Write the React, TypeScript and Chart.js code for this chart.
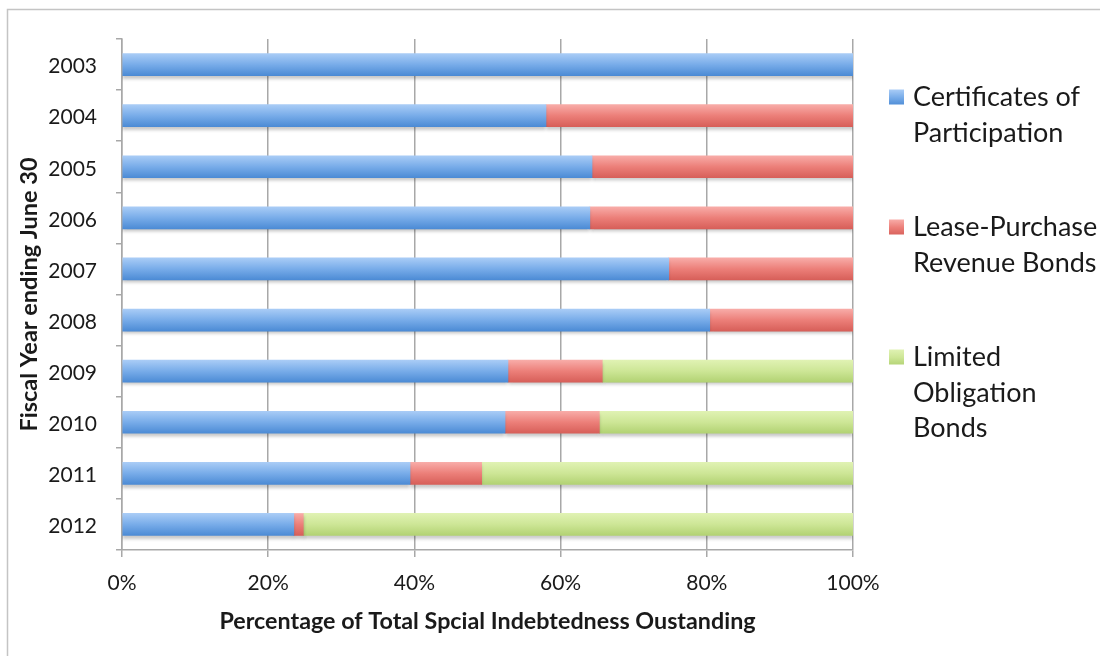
import React, { useEffect, useRef } from "react";
import { Chart, registerables } from "chart.js";

Chart.register(...registerables);

const years = ["2003", "2004", "2005", "2006", "2007", "2008", "2009", "2010", "2011", "2012"];
const certificates = [100, 58.0, 64.3, 64.0, 74.8, 80.4, 52.8, 52.4, 39.4, 23.5];
const leasePurchase = [0, 42.0, 35.7, 36.0, 25.2, 19.6, 12.9, 12.9, 9.8, 1.3];
const limitedObligation = [0, 0, 0, 0, 0, 0, 34.3, 34.7, 50.8, 75.2];
const seriesLines = [
  ["Certificates of", "Participation"],
  ["Lease-Purchase", "Revenue Bonds"],
  ["Limited", "Obligation", "Bonds"],
];
const xTicks = [0, 20, 40, 60, 80, 100];
const xTitle = "Percentage of Total Spcial Indebtedness Oustanding";
const yTitle = "Fiscal Year ending June 30";

const FONT = "Lato, 'Open Sans', sans-serif";
const BLUE = ["#a9ccf6", "#78ace9", "#4c8bd5"];
const RED = ["#f8aca8", "#ec7f79", "#d75f59"];
const GREEN = ["#e0f2b3", "#cde696", "#b2d273"];
const GRID = "#a8a8a8";

const makeFill = (stops: string[]) => (ctx: any) => {
  const chart = ctx.chart;
  const y = chart.scales && chart.scales.y;
  if (!y || ctx.dataIndex == null || ctx.type !== "data") return stops[1];
  const c = y.getPixelForValue(ctx.dataIndex);
  if (!Number.isFinite(c)) return stops[1];
  const g = chart.ctx.createLinearGradient(0, c - 11, 0, c + 11);
  g.addColorStop(0, stops[0]);
  g.addColorStop(0.5, stops[1]);
  g.addColorStop(1, stops[2]);
  return g;
};

const framePlugin = {
  id: "frame",
  beforeDraw(chart: any) {
    const { ctx } = chart;
    ctx.save();
    ctx.fillStyle = "#ffffff";
    ctx.fillRect(0, 0, chart.width, chart.height);
    ctx.strokeStyle = "#c4c4c4";
    ctx.lineWidth = 1.5;
    ctx.strokeRect(7.5, 9.5, 1300, 900);
    ctx.restore();
  },
};

const shadowPlugin = {
  id: "barShadow",
  beforeDatasetsDraw(chart: any) {
    const { ctx } = chart;
    ctx.save();
    ctx.shadowColor = "rgba(0,0,0,0.22)";
    ctx.shadowBlur = 3;
    ctx.shadowOffsetY = 3;
  },
  afterDatasetsDraw(chart: any) {
    chart.ctx.restore();
  },
};

const legendPlugin = {
  id: "sideLegend",
  afterDraw(chart: any) {
    const { ctx } = chart;
    const colors = [BLUE, RED, GREEN];
    ctx.save();
    ctx.font = `27px ${FONT}`;
    ctx.textBaseline = "middle";
    ctx.textAlign = "left";
    seriesLines.forEach((lines, i) => {
      const cy = 97.5 + i * 130;
      const g = ctx.createLinearGradient(0, cy - 8, 0, cy + 8);
      g.addColorStop(0, colors[i][0]);
      g.addColorStop(0.5, colors[i][1]);
      g.addColorStop(1, colors[i][2]);
      ctx.fillStyle = g;
      ctx.fillRect(889, cy - 8, 15, 15);
      ctx.fillStyle = "#1a1a1a";
      lines.forEach((t, j) => {
        ctx.fillText(t, 913, cy + j * 35.5);
      });
    });
    ctx.restore();
  },
};

export default function App() {
  const ref = useRef<HTMLCanvasElement | null>(null);

  useEffect(() => {
    if (!ref.current) return;
    const chart = new Chart(ref.current, {
      type: "bar",
      data: {
        labels: years,
        datasets: [
          { label: seriesLines[0].join(" "), data: certificates, backgroundColor: makeFill(BLUE) },
          { label: seriesLines[1].join(" "), data: leasePurchase, backgroundColor: makeFill(RED) },
          { label: seriesLines[2].join(" "), data: limitedObligation, backgroundColor: makeFill(GREEN) },
        ],
      },
      options: {
        indexAxis: "y",
        responsive: false,
        animation: false,
        layout: { padding: { left: 0, top: 39, right: 247, bottom: 0 } },
        datasets: { bar: { barThickness: 22, borderWidth: 0 } },
        plugins: {
          legend: { display: false },
          tooltip: { enabled: false },
        },
        scales: {
          x: {
            stacked: true,
            min: 0,
            max: 100,
            afterBuildTicks: (scale: any) => {
              scale.ticks = xTicks.map((v) => ({ value: v }));
            },
            afterFit: (scale: any) => {
              scale.height = 106;
            },
            grid: {
              color: GRID,
              lineWidth: 1.5,
              drawTicks: true,
              tickLength: 7,
              tickColor: GRID,
            },
            border: { display: true, color: GRID, width: 1.5 },
            ticks: {
              padding: 14,
              color: "#1a1a1a",
              font: { family: FONT, size: 21 },
              callback: (v: any) => `${v}%`,
            },
            title: {
              display: true,
              text: xTitle,
              color: "#1a1a1a",
              font: { family: FONT, size: 23.3, weight: "bold" },
              padding: { top: 0, bottom: 21 },
            },
          },
          y: {
            stacked: true,
            afterFit: (scale: any) => {
              scale.width = 122;
            },
            grid: {
              offset: true,
              drawOnChartArea: false,
              drawTicks: true,
              tickLength: 6,
              tickColor: GRID,
              lineWidth: 1.5,
            },
            border: { display: true, color: GRID, width: 1.5 },
            ticks: {
              padding: 19,
              labelOffset: 2,
              color: "#1a1a1a",
              font: { family: FONT, size: 21 },
            },
            title: {
              display: true,
              text: yTitle,
              color: "#1a1a1a",
              font: { family: FONT, size: 23.5, weight: "bold" },
              padding: { top: 15, bottom: 0 },
            },
          },
        },
      },
      plugins: [framePlugin, shadowPlugin, legendPlugin],
    } as any);
    return () => chart.destroy();
  }, []);

  return (
    <div style={{ position: "fixed", left: 0, top: 0, width: 1100, height: 656, background: "#fff" }}>
      <canvas ref={ref} width={1100} height={656} style={{ display: "block" }} />
    </div>
  );
}
